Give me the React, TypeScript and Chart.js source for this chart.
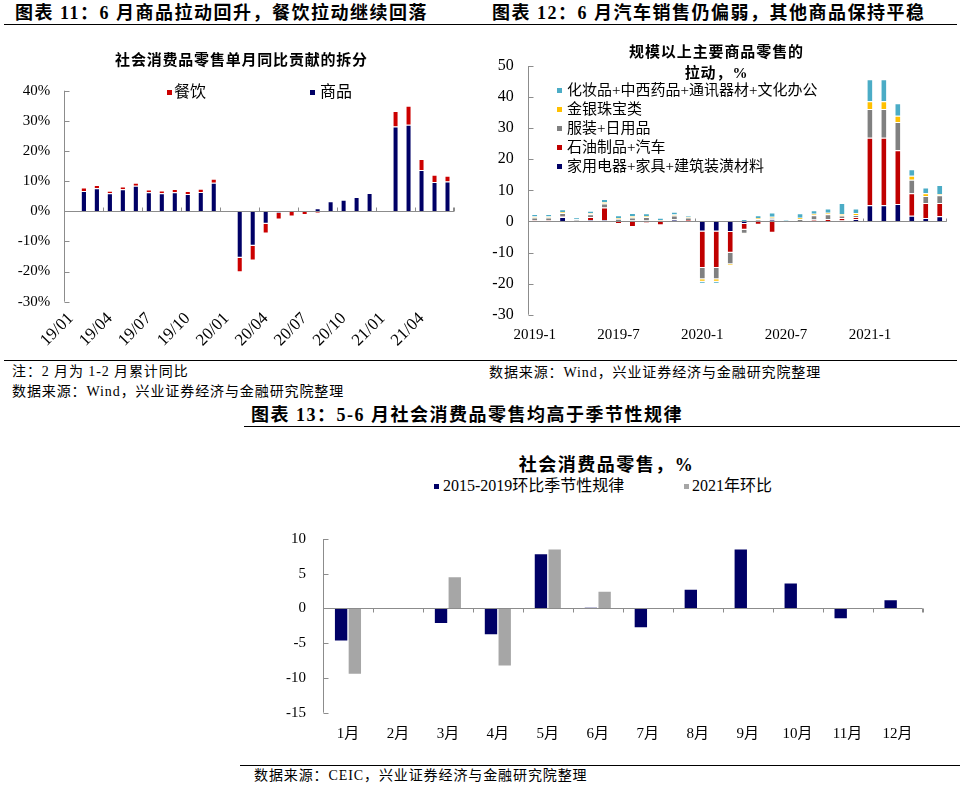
import React, { useEffect, useRef } from "react";
import { Chart, registerables } from "chart.js";
Chart.register(...registerables);

const FONT = "'Liberation Serif','Noto Sans CJK SC',serif";
const BOLD_FONT = "'Liberation Serif','Noto Sans CJK SC',sans-serif";

const NAVY = "#000066";
const RED = "#CC0000";
const AXIS = "#8c8c8c";

// ---------- Chart 11 ----------
const monthsA = [
  "19/01", "19/02", "19/03", "19/04", "19/05", "19/06", "19/07", "19/08", "19/09", "19/10", "19/11", "19/12",
  "20/01", "20/02", "20/03", "20/04", "20/05", "20/06", "20/07", "20/08", "20/09", "20/10", "20/11", "20/12",
  "21/01", "21/02", "21/03", "21/04", "21/05", "21/06",
];
const goodsA = [
  null, 6.7, 7.6, 6.0, 7.3, 8.5, 6.3, 6.0, 6.3, 5.7, 6.4, 9.5,
  null, -15.4, -11.4, -4.1, -0.6, -0.2, -0.2, 1.0, 3.3, 3.8, 4.7, 6.1,
  null, 28.1, 28.7, 13.7, 9.7, 9.9,
];
const cateringA = [
  null, 1.2, 1.1, 0.8, 0.9, 1.0, 0.9, 0.9, 1.1, 1.0, 1.1, 1.3,
  null, -4.8, -4.9, -3.3, -2.1, -1.5, -1.0, -0.7, -0.2, 0.1, -0.1, -0.2,
  null, 5.2, 6.3, 3.6, 2.4, 1.9,
];
const labelGoodsA = "商品";
const labelCateringA = "餐饮";

// ---------- Chart 12 ----------
const monthsB = [
  "2019-1", "2019-2", "2019-3", "2019-4", "2019-5", "2019-6", "2019-7", "2019-8", "2019-9", "2019-10", "2019-11", "2019-12",
  "2020-1", "2020-2", "2020-3", "2020-4", "2020-5", "2020-6", "2020-7", "2020-8", "2020-9", "2020-10", "2020-11", "2020-12",
  "2021-1", "2021-2", "2021-3", "2021-4", "2021-5", "2021-6",
];
const applianceB = [
  0.2, 0.2, 1.4, 0.2, 0.5, 0.5, 0.1, 0.3, 0.3, 0.1, 0.6, 0.1,
  -3.2, -3.2, -3.4, -0.8, 0.2, 0.6, 0.0, 0.0, 0.2, 0.1, 0.3, 0.8,
  5.2, 5.2, 5.6, 1.8, 1.1, 1.7,
];
const oilCarB = [
  0.2, 0.2, 0.2, -0.3, 0.9, 4.0, -0.8, -1.8, -0.5, -1.2, 0.1, 0.4,
  -11.8, -11.8, -6.7, -1.9, -1.1, -3.6, 0.0, 0.0, 0.4, 0.7, 0.8, 0.6,
  21.7, 21.7, 17.3, 7.3, 4.8, 4.2,
];
const clothingB = [
  0.9, 0.9, 1.1, 0.4, 0.9, 1.3, 0.8, 1.0, 1.1, 0.2, 1.2, 0.8,
  -3.6, -3.6, -3.7, -1.3, 0.6, 0.6, 0.1, 0.8, 1.4, 1.5, 0.8, 0.7,
  9.3, 9.3, 9.1, 4.3, 2.3, 2.5,
];
const jewelryB = [
  0.3, 0.3, 0.3, 0.1, 0.3, 0.4, 0.2, 0.4, 0.3, 0.2, 0.3, 0.2,
  -0.8, -0.8, -0.5, -0.1, 0.3, 0.3, 0.1, 0.4, 0.5, 0.5, 0.5, 0.6,
  2.5, 2.5, 2.0, 1.3, 0.9, 0.4,
];
const cosmeticsB = [
  0.8, 0.8, 0.9, 0.6, 0.8, 1.0, 0.9, 1.0, 0.9, 0.7, 0.9, 0.5,
  -0.6, -0.6, 0.3, 0.8, 0.9, 1.4, 0.4, 1.4, 1.1, 1.4, 3.5, 1.5,
  7.0, 7.0, 4.0, 2.1, 1.8, 2.9,
];
const seriesB = [
  { name: "家用电器+家具+建筑装潢材料", color: "#000066", data: applianceB },
  { name: "石油制品+汽车", color: "#C00000", data: oilCarB },
  { name: "服装+日用品", color: "#808080", data: clothingB },
  { name: "金银珠宝类", color: "#FFC000", data: jewelryB },
  { name: "化妆品+中西药品+通讯器材+文化办公", color: "#4BACC6", data: cosmeticsB },
];

// ---------- Chart 13 ----------
const monthsC = ["1月", "2月", "3月", "4月", "5月", "6月", "7月", "8月", "9月", "10月", "11月", "12月"];
const seasonalC = [-4.6, null, -2.1, -3.7, 7.8, 0.1, -2.7, 2.7, 8.5, 3.6, -1.4, 1.2];
const y2021C = [-9.4, null, 4.5, -8.2, 8.5, 2.4, null, null, null, null, null, null];
const labelSeasonalC = "2015-2019环比季节性规律";
const label2021C = "2021年环比";

// axis decoration: y axis line with inner ticks, zero line with category ticks
const decorPlugin = {
  id: "decor",
  afterDatasetsDraw(chart: any, _args: any, opts: any) {
    const { ctx, chartArea: a, scales } = chart;
    const xs = scales.x;
    const ys = scales.y;
    ctx.save();
    ctx.strokeStyle = opts.color;
    ctx.lineWidth = opts.width;
    ctx.beginPath();
    const ax = Math.round(a.left) + 0.5;
    ctx.moveTo(ax, a.top);
    ctx.lineTo(ax, a.bottom);
    ys.ticks.forEach((_t: any, i: number) => {
      const py = Math.round(ys.getPixelForTick(i)) + 0.5;
      ctx.moveTo(ax, py);
      ctx.lineTo(ax + opts.yTick, py);
    });
    const y0 = Math.round(ys.getPixelForValue(0)) + 0.5;
    ctx.moveTo(ax, y0);
    ctx.lineTo(a.right, y0);
    const n = xs.getLabels().length;
    const step = xs.getPixelForValue(1) - xs.getPixelForValue(0);
    const start = xs.getPixelForValue(0) - step / 2;
    for (let k = 0; k <= n; k += opts.every) {
      const px = Math.round(start + k * step) + 0.5;
      ctx.moveTo(px, y0);
      ctx.lineTo(px, y0 + opts.xTick);
    }
    const pr = Math.round(a.right) - 0.5;
    ctx.moveTo(pr, y0);
    ctx.lineTo(pr, y0 + opts.xTick);
    ctx.stroke();
    ctx.restore();
  },
};

const sepBorder = {
  borderColor: "#ffffff",
  borderWidth: { top: 1, bottom: 1, left: 0, right: 0 },
  borderSkipped: "start",
};

const configA: any = {
  type: "bar",
  data: {
    labels: monthsA,
    datasets: [
      { label: labelGoodsA, data: goodsA, backgroundColor: NAVY, ...sepBorder, barPercentage: 0.34, categoryPercentage: 1 },
      { label: labelCateringA, data: cateringA, backgroundColor: RED, ...sepBorder, barPercentage: 0.34, categoryPercentage: 1 },
    ],
  },
  options: {
    responsive: false,
    animation: false,
    devicePixelRatio: 1,
    layout: { padding: { left: 0, right: 26, top: 60.7, bottom: 0 } },
    plugins: {
      legend: { display: false },
      tooltip: { enabled: false },
      decor: { color: AXIS, width: 1, yTick: 5, every: 3, xTick: -4 },
    },
    scales: {
      x: {
        stacked: true,
        grid: { display: false, drawTicks: false },
        border: { display: false },
        ticks: {
          autoSkip: false,
          minRotation: 45,
          maxRotation: 45,
          padding: 7,
          color: "#000",
          font: { family: FONT, size: 17 },
          callback: (_v: any, i: number) => (i % 3 === 0 ? monthsA[i] : ""),
        },
        afterFit: (s: any) => {
          s.height = 58.3;
        },
      },
      y: {
        stacked: true,
        min: -30,
        max: 40,
        grid: { display: false, drawTicks: false },
        border: { display: false },
        ticks: {
          stepSize: 10,
          padding: 14,
          color: "#000",
          font: { family: FONT, size: 15 },
          callback: (v: any) => v + "%",
        },
        afterFit: (s: any) => {
          s.width = 64.3;
        },
      },
    },
  },
  plugins: [decorPlugin],
};

const configB: any = {
  type: "bar",
  data: {
    labels: monthsB,
    datasets: seriesB.map((s) => ({
      label: s.name,
      data: s.data,
      backgroundColor: s.color,
      ...sepBorder,
      barPercentage: 0.36,
      categoryPercentage: 1,
    })),
  },
  options: {
    responsive: false,
    animation: false,
    devicePixelRatio: 1,
    layout: { padding: { left: 0, right: 13.3, top: 36, bottom: 0 } },
    plugins: {
      legend: { display: false },
      tooltip: { enabled: false },
      decor: { color: AXIS, width: 1, yTick: 5, every: 12, xTick: -3 },
    },
    scales: {
      x: {
        stacked: true,
        grid: { display: false, drawTicks: false },
        border: { display: false },
        ticks: {
          autoSkip: false,
          minRotation: 0,
          maxRotation: 0,
          padding: 11,
          color: "#000",
          font: { family: FONT, size: 15 },
          callback: (_v: any, i: number) => (i % 6 === 0 ? monthsB[i] : ""),
        },
        afterFit: (s: any) => {
          s.height = 45.3;
        },
      },
      y: {
        stacked: true,
        min: -30,
        max: 50,
        grid: { display: false, drawTicks: false },
        border: { display: false },
        ticks: { stepSize: 10, padding: 14, color: "#000", font: { family: FONT, size: 16 } },
        afterFit: (s: any) => {
          s.width = 47.7;
        },
      },
    },
  },
  plugins: [decorPlugin],
};

const configC: any = {
  type: "bar",
  data: {
    labels: monthsC,
    datasets: [
      { label: labelSeasonalC, data: seasonalC, backgroundColor: "#000066", barPercentage: 0.9, categoryPercentage: 0.55 },
      { label: label2021C, data: y2021C, backgroundColor: "#A6A6A6", barPercentage: 0.9, categoryPercentage: 0.55 },
    ],
  },
  options: {
    responsive: false,
    animation: false,
    devicePixelRatio: 1,
    layout: { padding: { left: 0, right: 48.5, top: 39, bottom: 0 } },
    plugins: {
      legend: { display: false },
      tooltip: { enabled: false },
      decor: { color: AXIS, width: 1, yTick: 5, every: 1, xTick: 4 },
    },
    scales: {
      x: {
        grid: { display: false, drawTicks: false },
        border: { display: false },
        ticks: { autoSkip: false, maxRotation: 0, padding: 12, color: "#000", font: { family: FONT, size: 15 } },
        afterFit: (s: any) => {
          s.height = 52.3;
        },
      },
      y: {
        min: -15,
        max: 10,
        grid: { display: false, drawTicks: false },
        border: { display: false },
        ticks: { stepSize: 5, padding: 17, color: "#000", font: { family: FONT, size: 15 } },
        afterFit: (s: any) => {
          s.width = 83;
        },
      },
    },
  },
  plugins: [decorPlugin],
};

function ChartBox({ config, left, top, width, height }: any) {
  const ref = useRef<HTMLCanvasElement | null>(null);
  useEffect(() => {
    const chart = new Chart(ref.current as HTMLCanvasElement, config);
    return () => chart.destroy();
  }, []);
  return (
    <canvas
      ref={ref}
      width={width}
      height={height}
      style={{ position: "absolute", left, top, width, height }}
    />
  );
}

function Txt({ x, y, size, bold = false, ls = 0, center = false, children }: any) {
  return (
    <div
      style={{
        position: "absolute",
        left: x,
        top: y - size / 2,
        fontSize: size,
        lineHeight: `${size}px`,
        fontFamily: bold ? BOLD_FONT : FONT,
        fontWeight: bold ? 700 : 400,
        letterSpacing: ls,
        whiteSpace: "nowrap",
        color: "#000",
        transform: center ? "translateX(-50%)" : undefined,
      }}
    >
      {children}
    </div>
  );
}

function LegendItem({ x, y, size, color, gap, children, ls = 0 }: any) {
  return (
    <div
      style={{
        position: "absolute",
        left: x,
        top: y - size / 2,
        fontSize: size,
        lineHeight: `${size}px`,
        fontFamily: FONT,
        letterSpacing: ls,
        whiteSpace: "nowrap",
        display: "flex",
        alignItems: "center",
        color: "#000",
      }}
    >
      <span style={{ display: "inline-block", width: 5, height: 5, background: color, marginRight: gap }} />
      <span>{children}</span>
    </div>
  );
}

function HLine({ x1, x2, y }: any) {
  return <div style={{ position: "absolute", left: x1, top: y, width: x2 - x1, height: 1, background: "#000" }} />;
}

export default function App() {
  const legendB = [...seriesB].reverse();
  return (
    <div style={{ position: "absolute", left: 0, top: 0, width: 971, height: 792, background: "#fff", overflow: "hidden" }}>
      {/* headings */}
      <Txt x={15} y={13} size={18} bold ls={1.5}>图表 11：6 月商品拉动回升，餐饮拉动继续回落</Txt>
      <Txt x={492} y={13} size={18} bold ls={1.5}>图表 12：6 月汽车销售仍偏弱，其他商品保持平稳</Txt>
      <HLine x1={4} x2={957} y={24} />

      {/* chart 11 */}
      <ChartBox config={configA} left={0} top={30} width={480} height={330} />
      <Txt x={241.5} y={60} size={15} bold ls={0.8} center>社会消费品零售单月同比贡献的拆分</Txt>
      <LegendItem x={167} y={92} size={16} color={RED} gap={2}>{labelCateringA}</LegendItem>
      <LegendItem x={310} y={92} size={16} color={NAVY} gap={5}>{labelGoodsA}</LegendItem>

      {/* chart 12 */}
      <ChartBox config={configB} left={480} top={30} width={480} height={330} />
      <Txt x={716.5} y={52} size={15} bold ls={0.9} center>规模以上主要商品零售的</Txt>
      <Txt x={716.5} y={73} size={15} bold ls={0.9} center>拉动，%</Txt>
      {legendB.map((s, i) => (
        <LegendItem key={s.name} x={557} y={90 + i * 19.2} size={15} color={s.color} gap={5}>
          {s.name}
        </LegendItem>
      ))}

      <HLine x1={4} x2={957} y={360} />
      <Txt x={12} y={372} size={14} ls={0.9}>注：2 月为 1-2 月累计同比</Txt>
      <Txt x={12} y={392} size={14} ls={0.9}>数据来源：Wind，兴业证券经济与金融研究院整理</Txt>
      <Txt x={489} y={373} size={14} ls={0.9}>数据来源：Wind，兴业证券经济与金融研究院整理</Txt>

      {/* chart 13 */}
      <Txt x={251} y={415} size={18} bold ls={1.5}>图表 13：5-6 月社会消费品零售均高于季节性规律</Txt>
      <HLine x1={244} x2={960} y={426} />
      <ChartBox config={configC} left={240} top={500} width={731} height={265} />
      <Txt x={606.5} y={465} size={18} bold ls={1.5} center>社会消费品零售，%</Txt>
      <LegendItem x={434} y={486} size={16} color="#000066" gap={4}>{labelSeasonalC}</LegendItem>
      <LegendItem x={684} y={486} size={16} color="#A6A6A6" gap={3}>{label2021C}</LegendItem>
      <HLine x1={240} x2={960} y={765} />
      <Txt x={254} y={776} size={14} ls={0.9}>数据来源：CEIC，兴业证券经济与金融研究院整理</Txt>
    </div>
  );
}
